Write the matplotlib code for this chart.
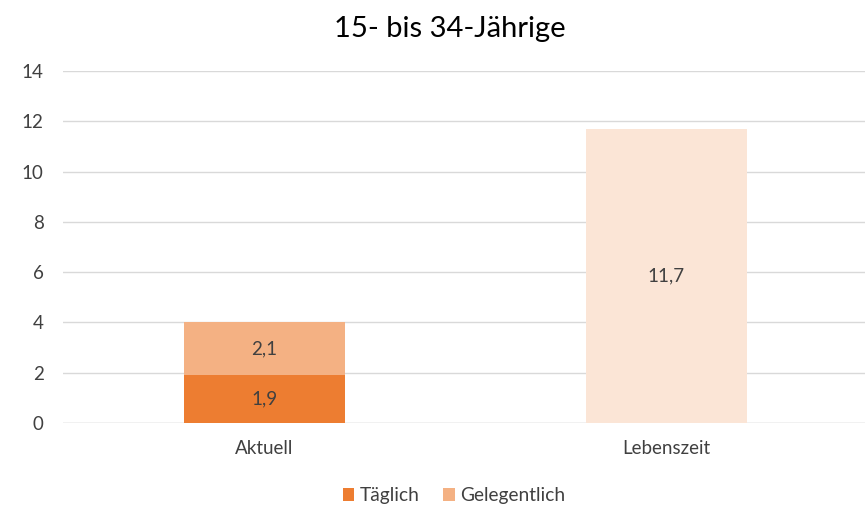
import matplotlib
matplotlib.use("Agg")
import matplotlib.pyplot as plt
import numpy as np

plt.rcParams['font.family'] = ['Lato', 'DejaVu Sans']

categories = ["Aktuell", "Lebenszeit"]
taeglich = [1.9, 0]
gelegentlich = [2.1, 0]
lebenszeit = [0, 11.7]

c_dark = "#ED7D31"
c_mid = "#F4B183"
c_light = "#FBE5D6"

fig = plt.figure(figsize=(8.65, 5.09), dpi=100)
ax = fig.add_axes([0.0728, 0.169, 0.93, 0.6915])

x = np.arange(len(categories))
w = 0.40

b1 = ax.bar(x[:1], taeglich[:1], w, color=c_dark, label="Täglich", zorder=3)
b2 = ax.bar(x[:1], gelegentlich[:1], w, bottom=taeglich[:1], color=c_mid,
            label="Gelegentlich", zorder=3)
b3 = ax.bar(x[1:], lebenszeit[1:], w, color=c_light, zorder=3)

def fmt(v):
    return f"{v:.1f}".replace(".", ",")

lbl = dict(ha="center", va="center", fontsize=13.5, color="#404040", zorder=4)
for rect, v in zip(b1, taeglich[:1]):
    ax.text(rect.get_x() + w / 2, v / 2, fmt(v), **lbl)
for rect, v, b in zip(b2, gelegentlich[:1], taeglich[:1]):
    ax.text(rect.get_x() + w / 2, b + v / 2, fmt(v), **lbl)
for rect, v in zip(b3, lebenszeit[1:]):
    ax.text(rect.get_x() + w / 2, v / 2, fmt(v), **lbl)

ax.set_xlim(-0.5, 1.5)
ax.set_ylim(0, 14)
ax.set_yticks(range(0, 15, 2))
ax.set_xticks(x)
ax.set_xticklabels(categories)
ax.grid(axis="y", color="#D9D9D9", linewidth=1, zorder=0)
for s in ax.spines.values():
    s.set_visible(False)
ax.axhline(0, color="#D9D9D9", linewidth=1, zorder=2)
ax.tick_params(axis="both", length=0, labelsize=13.5, colors="#404040")
ax.tick_params(axis="x", pad=12)
ax.tick_params(axis="y", pad=14)

fig.text(0.52, 0.943, "15- bis 34-Jährige", ha="center", va="center",
         fontsize=21, color="#000000")

fig.legend(handles=[b1, b2], labels=["Täglich", "Gelegentlich"], loc="center",
           bbox_to_anchor=(0.525, 0.026), ncol=2, frameon=False, fontsize=13.8,
           handlelength=0.6, handleheight=0.6, handletextpad=0.3, columnspacing=1.2,
           labelcolor="#404040")

fig.savefig("out.png", dpi=100)
